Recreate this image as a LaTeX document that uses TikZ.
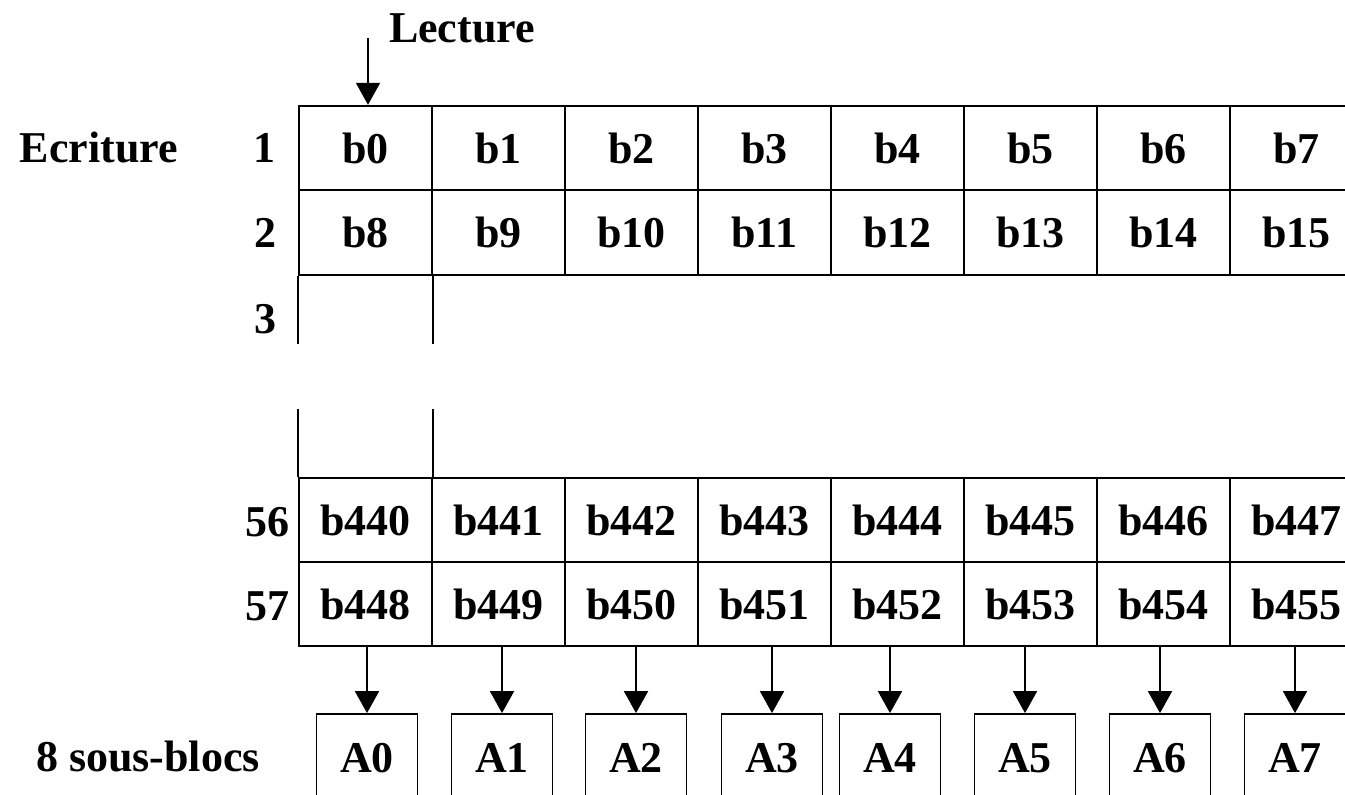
\documentclass[tikz,border=0pt]{standalone}
\usepackage{fontspec}
\setmainfont{Liberation Serif}
\usetikzlibrary{arrows.meta}
\begin{document}
\begin{tikzpicture}[x=1pt,y=-1pt,
  every node/.style={font=\fontsize{44}{50}\selectfont\bfseries, inner sep=0pt},
  cell/.style={draw, line width=1.8pt, minimum width=133pt, minimum height=84.5pt},
  sbox/.style={draw, line width=1.8pt, minimum width=101pt, minimum height=88pt},
  arr/.style={line width=1.8pt, -{Triangle[length=22pt,width=24pt]}},
  edge/.style={line width=1.8pt}]
\useasboundingbox (0,0) rectangle (1345,795);
\clip (0,0) rectangle (1345,795);
% top rows
\foreach \i in {0,...,7}{
  \pgfmathtruncatemacro{\a}{\i}
  \pgfmathtruncatemacro{\b}{\i+8}
  \pgfmathsetmacro{\cx}{365.5+133*\i}
  \node[cell] (r1-\i) at (\cx,148) {b\a};
  \node[cell] (r2-\i) at (\cx,232.5) {b\b};
}
% bottom rows
\foreach \i in {0,...,7}{
  \pgfmathtruncatemacro{\a}{440+\i}
  \pgfmathtruncatemacro{\b}{448+\i}
  \pgfmathsetmacro{\cx}{365.5+133*\i}
  \node[cell] (r56-\i) at (\cx,520) {b\a};
  \node[cell] (r57-\i) at (\cx,604) {b\b};
}
% partial row 3 and row 55
\draw[edge] (r2-0.south west) -- ++(0,68);
\draw[edge] (r2-0.south east) -- ++(0,68);
\draw[edge] (r56-0.north west) -- ++(0,-68);
\draw[edge] (r56-0.north east) -- ++(0,-68);
% labels
\node (lecture) at (462,28) {Lecture};
\coordinate (lec) at (368,38);
\draw[arr] (lec) -- (lec |- r1-0.north);
\node (ecriture) at (99,148) {Ecriture};
\node (n1) at (264,148) {1};
\node (n2) at (265,233) {2};
\node (n3) at (265,319) {3};
\node (n56) at (267,522) {56};
\node (n57) at (267,606) {57};
\node (sb) at (148,756) {8 sous-blocs};
% sub-blocks
\foreach \x [count=\k from 0] in {367,502,636,772,890,1025,1160,1295}{
  \node[sbox] (A\k) at (\x,758) {A\k};
}
\foreach \k in {0,...,7}{
  \draw[arr] (A\k.north |- r57-\k.south) -- (A\k.north);
}
\end{tikzpicture}
\end{document}
